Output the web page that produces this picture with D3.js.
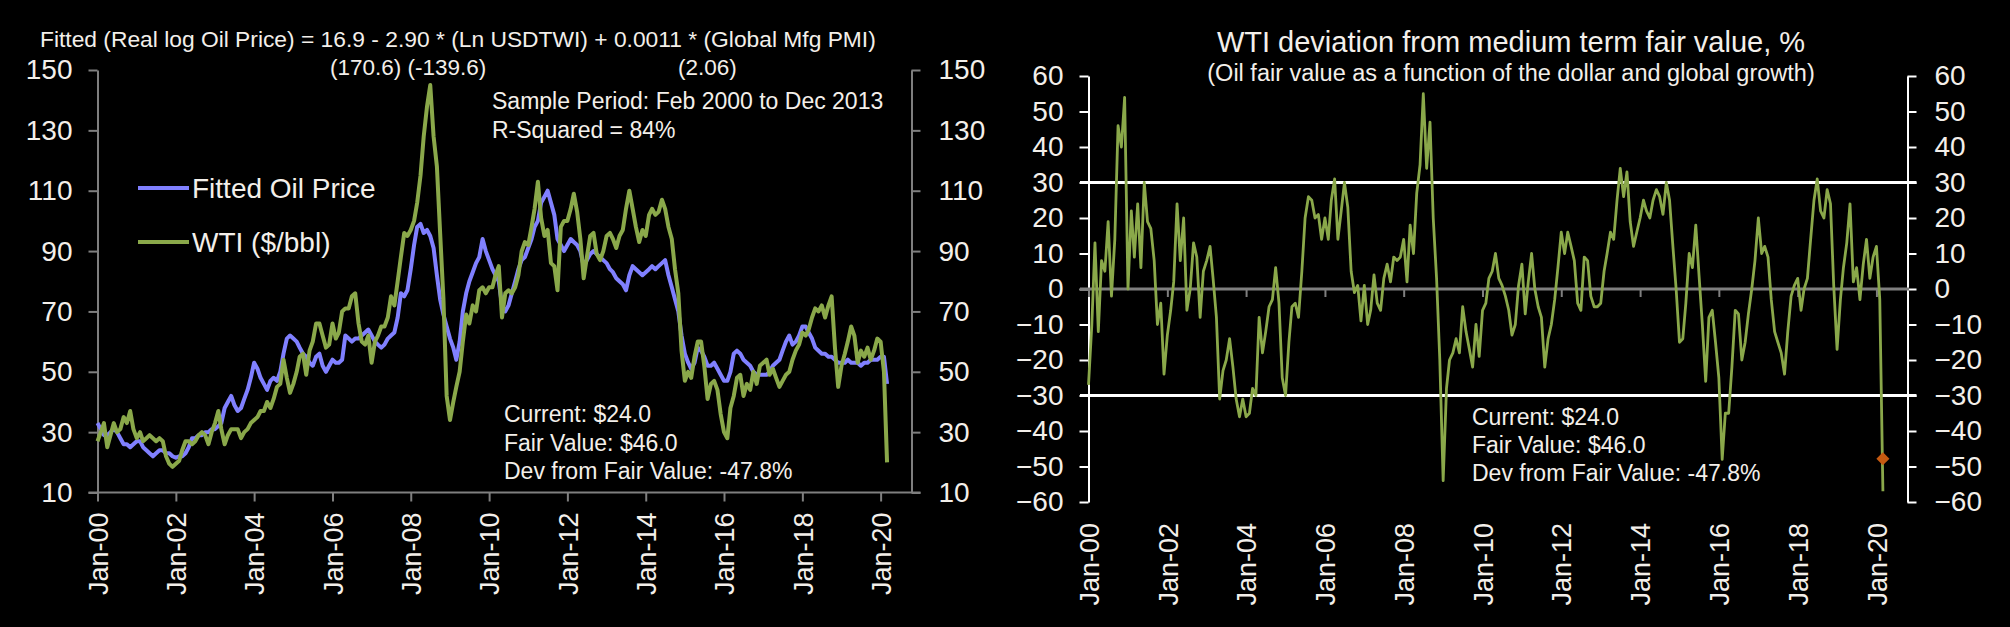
<!DOCTYPE html>
<html>
<head>
<meta charset="utf-8">
<script src="https://cdn.jsdelivr.net/npm/d3@7"></script>
<style>
  body { margin: 0; background: #000; }
  svg text { font-family: "Liberation Sans", Arial, sans-serif; fill: #f3efea; }
</style>
</head>
<body>
<script>

// monthly series, Jan 2000 .. Mar 2020
var startMonth = new Date(2000, 0, 1);

var wti = [
  27, 30, 33, 25, 29, 33, 30, 31, 35, 33, 37, 31,
  28, 30, 27, 28, 29, 28, 27, 28, 27, 22, 19.5, 18.5,
  19.5, 20.5, 24, 27, 27, 26, 27, 29, 30, 29, 26, 30,
  33, 37, 31, 26, 29, 31, 31, 31, 28, 30, 31, 33,
  34, 35, 37, 37, 40, 38, 41, 45, 46, 54, 48, 43,
  46, 50, 55, 56, 49, 57, 60, 66, 66, 62, 58, 59,
  66, 61, 63, 70, 71, 71, 75, 76, 66, 60, 59, 62,
  53, 60, 62, 65, 65, 68, 75, 72, 80, 88, 96, 95,
  97, 100, 106, 115, 128, 138, 145, 128, 118, 96, 74, 42,
  34, 40, 45, 50, 60, 69, 66, 72, 70, 77, 78, 76,
  78, 78, 82, 85, 68, 76, 77, 76, 78, 82, 90, 93,
  92, 98, 104, 113, 101, 95, 97, 86, 85, 77, 98, 100,
  100, 104, 109, 103, 94, 81, 88, 95, 96, 89, 87, 90,
  95, 96, 94, 91, 95, 97, 104, 110, 104, 98, 93, 97,
  95, 102, 104, 102, 103, 107, 104, 98, 94, 84, 76, 57,
  47, 50, 48, 55, 60, 60, 52, 41, 46, 47, 44, 36,
  30, 28, 38, 42, 48, 49, 42, 46, 44, 50, 46, 52,
  53, 54, 49, 51, 48, 45, 47, 49, 50, 54, 57, 59,
  63, 62, 64, 68, 71, 70, 72, 68, 72, 75, 58, 45,
  52, 56, 60, 65, 62, 53, 57, 55, 58, 54, 57, 61,
  60, 50, 20
];

var fitted = [
  33, 31, 29, 29, 30, 31, 30, 28, 26, 26, 25, 26,
  27, 27, 25, 24, 23, 22, 23, 24, 24, 23, 23, 22,
  21.5, 22, 22, 23, 25, 28, 28, 29, 29, 30, 30, 31,
  31, 32, 33, 38, 40, 42, 39, 37, 38, 41, 44, 48,
  53, 51, 48, 46, 44, 47, 48, 47, 50, 56, 61, 62,
  61, 60, 58, 56, 55, 53, 52, 55, 56, 52, 50, 52,
  54, 53, 53, 54, 62, 61, 60, 61, 61, 62, 63, 64,
  62, 60, 59, 58, 59, 61, 62, 63, 68, 76, 75, 77,
  84, 92, 98, 99, 96, 97, 95, 91, 82, 74, 69, 65,
  61, 58, 54, 60, 70, 76, 80, 83, 86, 88, 94, 90,
  87, 84, 82, 80, 72, 70, 72, 76, 80, 84, 87, 88,
  91, 94, 98, 100, 106, 108, 110, 106, 102, 94, 92, 90,
  92, 94, 93, 92, 90, 85, 87, 89, 90, 89, 88, 87,
  86, 84, 83, 81, 80, 79, 77, 82, 85, 84, 83, 82,
  83, 84, 85, 84, 85, 86, 87, 82, 78, 74, 70, 62,
  56, 53, 51, 53, 58, 57, 55, 52, 52, 53, 51, 49,
  47, 47, 50, 56, 57, 56, 54, 53, 52, 50, 49, 49,
  49, 49, 50, 52, 53, 54, 57, 60, 62, 59, 60, 62,
  65, 65, 63, 61, 58, 57, 56, 56, 55, 55, 54, 53,
  53, 53, 54, 53, 53, 53, 52, 53, 53, 54, 54, 54,
  55, 55, 46
];

var deviation = [
  -27, -10, 13, -12, 8, 5, 19, -2, 14, 46, 40, 54,
  0, 22, 9, 24, 6, 30, 19, 17, 8, -10, -4, -24,
  -13, -6, 2, 24, 8, 20, -6, 0, 13, 9, -8, 5,
  8, 12, 3, -8, -31, -23, -20, -14, -22, -31, -36, -31,
  -36, -35, -28, -30, -8, -18, -12, -5, -3, 6, -4, -25,
  -30, -15, -5, -4, -8, 5, 20, 26, 25, 20, 21, 14,
  20, 14, 25, 31, 14, 22, 30, 23, 5, -1, 1, -9,
  1, -10, -6, 4, -4, -6, 3, 7, 2, 9, 8, 9,
  14, 2, 18, 10, 27, 35, 55, 34, 47, 20, 3, -20,
  -54, -28, -20, -18, -14, -18, -5, -12, -17, -22, -10, -19,
  -6, -4, 3, 5, 10, 3, 1, -2, -6, -13, -10, 1,
  7, -7, 2, 10, 0, -5, -8, -22, -14, -10, -3, 6,
  16, 10, 16, 12, 8, -4, -6, 9, 8, -2, -5, -5,
  -4, 5, 10, 16, 14, 25, 34, 26, 33, 19, 12, 16,
  20, 25, 22, 20, 25, 28, 26, 21, 30, 25, 12, 0,
  -15, -14, -4, 10, 6, 18, 4, -10, -26, -8, -6, -15,
  -25, -48, -35, -35, -22, -6, -7, -20, -15, -7, 0, 8,
  20, 10, 12, 9, -3, -12, -15, -18, -24, -12, -2, 1,
  3, -6, 0, 3, 14, 25, 31, 22, 20, 28, 24, 1,
  -17, -3, 6, 13, 24, 2, 6, -3, 7, 14, 3, 9,
  12, -3, -57
];

var priceTicks = [10, 30, 50, 70, 90, 110, 130, 150];
var devTicks = [-60, -50, -40, -30, -20, -10, 0, 10, 20, 30, 40, 50, 60];
var bandLevels = [30, -30];
var yearTicks = d3.range(2000, 2021, 2).map(function(y) { return new Date(y, 0, 1); });
var currentDev = -47.8;

var legendNames = ["Fitted Oil Price", "WTI ($/bbl)"];
var statLines = ["Current: $24.0", "Fair Value: $46.0", "Dev from Fair Value: -47.8%"];

var dates = wti.map(function(d, i) { return d3.timeMonth.offset(startMonth, i); });
var endDate = new Date(2020, 9, 15);

var green = "#8aa84a";
var purple = "#8080ff";
var grey = "#7f7f7f";
var fmt = d3.timeFormat("%b-%y");

var svg = d3.select("body").append("svg")
  .attr("width", 2010)
  .attr("height", 627)
  .style("background", "#000");

// ---------- left chart ----------
var xL = d3.scaleTime().domain([startMonth, endDate]).range([97.5, 911.5]);
var yL = d3.scaleLinear().domain([10, 150]).range([492.5, 70]);

var left = svg.append("g");

var axL = left.append("g")
  .attr("transform", "translate(97.5,0)")
  .call(d3.axisLeft(yL).tickValues(priceTicks).tickSize(9).tickSizeOuter(0).tickPadding(16));
var axR = left.append("g")
  .attr("transform", "translate(911.5,0)")
  .call(d3.axisRight(yL).tickValues(priceTicks).tickSize(9).tickSizeOuter(0).tickPadding(18));
var axB = left.append("g")
  .attr("transform", "translate(0,492.5)")
  .call(d3.axisBottom(xL).tickValues(yearTicks).tickSize(9).tickSizeOuter(0).tickFormat(fmt));
axB.select(".domain").remove();
left.append("line")
  .attr("x1", 88.5).attr("x2", 920.5)
  .attr("y1", 492.5).attr("y2", 492.5)
  .attr("stroke", grey).attr("stroke-width", 2);

[axL, axR, axB].forEach(function(a) {
  a.selectAll(".domain, line").attr("stroke", grey).attr("stroke-width", 2);
});
[axL, axR].forEach(function(a) {
  a.selectAll("text").style("font-size", "28px").attr("fill", "#f3efea");
});
axB.selectAll("text")
  .style("font-size", "27px")
  .attr("fill", "#f3efea")
  .attr("transform", "rotate(-90)")
  .attr("text-anchor", "end")
  .attr("x", -20).attr("y", 0).attr("dy", "0.36em");

var lineL = function(arr) {
  return d3.line()
    .x(function(d, i) { return xL(dates[i]); })
    .y(function(d) { return yL(d); })(arr);
};

left.append("path").attr("d", lineL(fitted))
  .attr("fill", "none").attr("stroke", purple).attr("stroke-width", 4).attr("stroke-linejoin", "round");
left.append("path").attr("d", lineL(wti))
  .attr("fill", "none").attr("stroke", green).attr("stroke-width", 4).attr("stroke-linejoin", "round");

// equation
left.append("text").attr("x", 40).attr("y", 46.5).style("font-size", "22.8px")
  .text("Fitted (Real log Oil Price) = 16.9 - 2.90 * (Ln USDTWI) + 0.0011 * (Global Mfg PMI)");
left.append("text").attr("x", 330).attr("y", 75).style("font-size", "22.5px").text("(170.6) (-139.6)");
left.append("text").attr("x", 678).attr("y", 75).style("font-size", "22.5px").text("(2.06)");

// legend
var legColors = [purple, green];
legendNames.forEach(function(name, i) {
  var y = 188 + i * 54;
  left.append("line").attr("x1", 138).attr("x2", 189).attr("y1", y).attr("y2", y)
    .attr("stroke", legColors[i]).attr("stroke-width", 4);
  left.append("text").attr("x", 192).attr("y", y).attr("dy", "0.36em")
    .style("font-size", "28px").text(name);
});

left.append("text").attr("x", 492).attr("y", 109).style("font-size", "23px")
  .text("Sample Period: Feb 2000 to Dec 2013");
left.append("text").attr("x", 492).attr("y", 138).style("font-size", "23px")
  .text("R-Squared = 84%");

statLines.forEach(function(t, i) {
  left.append("text").attr("x", 504).attr("y", 422 + i * 28.5).style("font-size", "23px").text(t);
});

// ---------- right chart ----------
var xR = d3.scaleTime().domain([startMonth, endDate]).range([1088.5, 1907.5]);
var yR = d3.scaleLinear().domain([-60, 60]).range([502, 76]);

var right = svg.append("g");

var raL = right.append("g")
  .attr("transform", "translate(1088.5,0)")
  .call(d3.axisLeft(yR).tickValues(devTicks).tickSize(9).tickSizeOuter(0).tickPadding(16));
var raR = right.append("g")
  .attr("transform", "translate(1907.5,0)")
  .call(d3.axisRight(yR).tickValues(devTicks).tickSize(9).tickSizeOuter(0).tickPadding(18));
[raL, raR].forEach(function(a) {
  a.selectAll(".domain, line").attr("stroke", "#fff").attr("stroke-width", 2);
  a.selectAll("text").style("font-size", "28px").attr("fill", "#f3efea");
});

// zero line with year ticks
var raZ = right.append("g")
  .attr("transform", "translate(0," + yR(0) + ")")
  .call(d3.axisBottom(xR).tickValues(yearTicks).tickSize(8).tickSizeOuter(0).tickFormat(""));
raZ.select(".domain").remove();
raZ.selectAll("line").attr("stroke", grey).attr("stroke-width", 2);
right.append("line")
  .attr("x1", 1080).attr("x2", 1909)
  .attr("y1", yR(0)).attr("y2", yR(0))
  .attr("stroke", grey).attr("stroke-width", 3);

// labels at the bottom
var raB = right.append("g")
  .attr("transform", "translate(0," + yR(-60) + ")")
  .call(d3.axisBottom(xR).tickValues(yearTicks).tickSize(0).tickFormat(fmt));
raB.select(".domain").remove();
raB.selectAll("text")
  .style("font-size", "27px")
  .attr("fill", "#f3efea")
  .attr("transform", "rotate(-90)")
  .attr("text-anchor", "end")
  .attr("x", -21).attr("y", 0).attr("dy", "0.36em");

right.selectAll(".band").data(bandLevels).enter().append("line")
  .attr("class", "band")
  .attr("x1", 1080).attr("x2", 1916.5)
  .attr("y1", function(d) { return yR(d); })
  .attr("y2", function(d) { return yR(d); })
  .attr("stroke", "#fff").attr("stroke-width", 3);

right.append("path")
  .attr("d", d3.line()
    .x(function(d, i) { return xR(dates[i]); })
    .y(function(d) { return yR(d); })(deviation))
  .attr("fill", "none").attr("stroke", green).attr("stroke-width", 2.8).attr("stroke-linejoin", "round");

right.append("path")
  .attr("d", d3.symbol(d3.symbolSquare, 85)())
  .attr("transform", "translate(" + xR(dates[dates.length - 1]) + "," + yR(currentDev) + ") rotate(45)")
  .attr("fill", "#c55a11");

right.append("text").attr("x", 1511).attr("y", 51.5).attr("text-anchor", "middle")
  .style("font-size", "29px").text("WTI deviation from medium term fair value, %");
right.append("text").attr("x", 1511).attr("y", 80.5).attr("text-anchor", "middle")
  .style("font-size", "23.5px").text("(Oil fair value as a function of the dollar and global growth)");

statLines.forEach(function(t, i) {
  right.append("text").attr("x", 1472).attr("y", 425 + i * 28).style("font-size", "23px").text(t);
});

</script>
</body>
</html>
